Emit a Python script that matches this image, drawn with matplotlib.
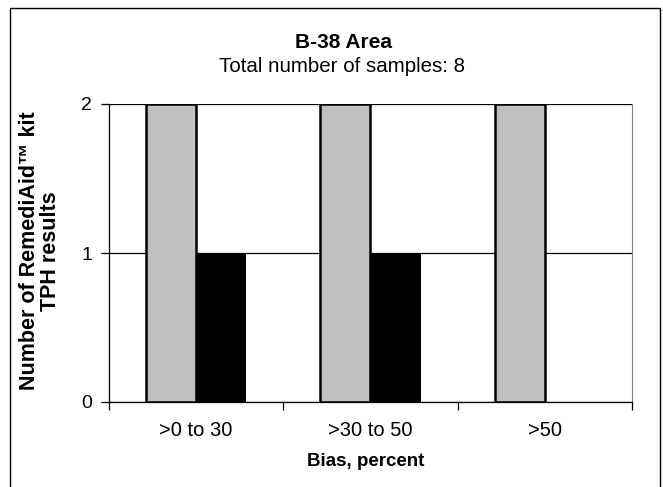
import matplotlib.pyplot as plt
import numpy as np
from matplotlib.patches import Rectangle

categories = [">0 to 30", ">30 to 50", ">50"]
gray_counts = [2, 2, 2]
black_counts = [1, 1, 0]
y_ticks = [0, 1, 2]

plt.rcParams['font.family'] = ['Liberation Sans', 'DejaVu Sans']

W, H = 663, 487
fig = plt.figure(figsize=(W / 100, H / 100), dpi=100)

# outer chart border
fig.patches.append(Rectangle((10 / W, -0.01), 650 / W, 1.01 - 8 / H,
                             transform=fig.transFigure, fill=False,
                             edgecolor='black', linewidth=1.0))

ax = fig.add_axes([109 / W, (H - 402) / H, (632 - 109) / W, (402 - 104) / H])

x = np.arange(len(categories))
w = 0.287
ax.bar(x - w / 2, gray_counts, w, color='#c0c0c0', edgecolor='black', linewidth=1.8, zorder=3)
ax.bar(x + w / 2, black_counts, w, color='black', linewidth=0, zorder=3)

ax.set_xlim(-0.5, len(categories) - 0.5)
ax.set_ylim(0, 2)
ax.set_yticks(y_ticks)
ax.set_yticklabels([str(v) for v in y_ticks], fontsize=14)
ax.yaxis.grid(True, color='black', linewidth=0.9, zorder=0)

# category labels centred, ticks on category boundaries
ax.set_xticks(x)
ax.set_xticklabels(categories, fontsize=14.5)
ax.tick_params(axis='x', length=0, pad=14)
ax.set_xticks(np.arange(-0.5, len(categories)), minor=True)
ax.tick_params(axis='x', which='minor', length=6, width=0.9, direction='out')
ax.tick_params(axis='y', length=6, width=0.9, direction='out', pad=6)

ax.spines['top'].set_visible(False)
ax.spines['right'].set_color('#808080')
ax.spines['left'].set_linewidth(0.9)
ax.spines['bottom'].set_linewidth(0.9)

fig.text(343 / W, 1 - 43 / H, "B-38 Area", ha='center', va='center',
         fontsize=15, fontweight='bold')
fig.text(342 / W, 1 - 66 / H, "Total number of samples: 8", ha='center', va='center',
         fontsize=14.8)
fig.text(40 / W, 1 - 251 / H, "Number of RemediAid\u2122 kit\nTPH results", ha='center',
         va='center', rotation=90, fontsize=15.5, fontweight='bold', linespacing=1.0)
fig.text(366 / W, 1 - 462 / H, "Bias, percent", ha='center', va='center',
         fontsize=13.5, fontweight='bold')

fig.savefig("out.png", dpi=100)
